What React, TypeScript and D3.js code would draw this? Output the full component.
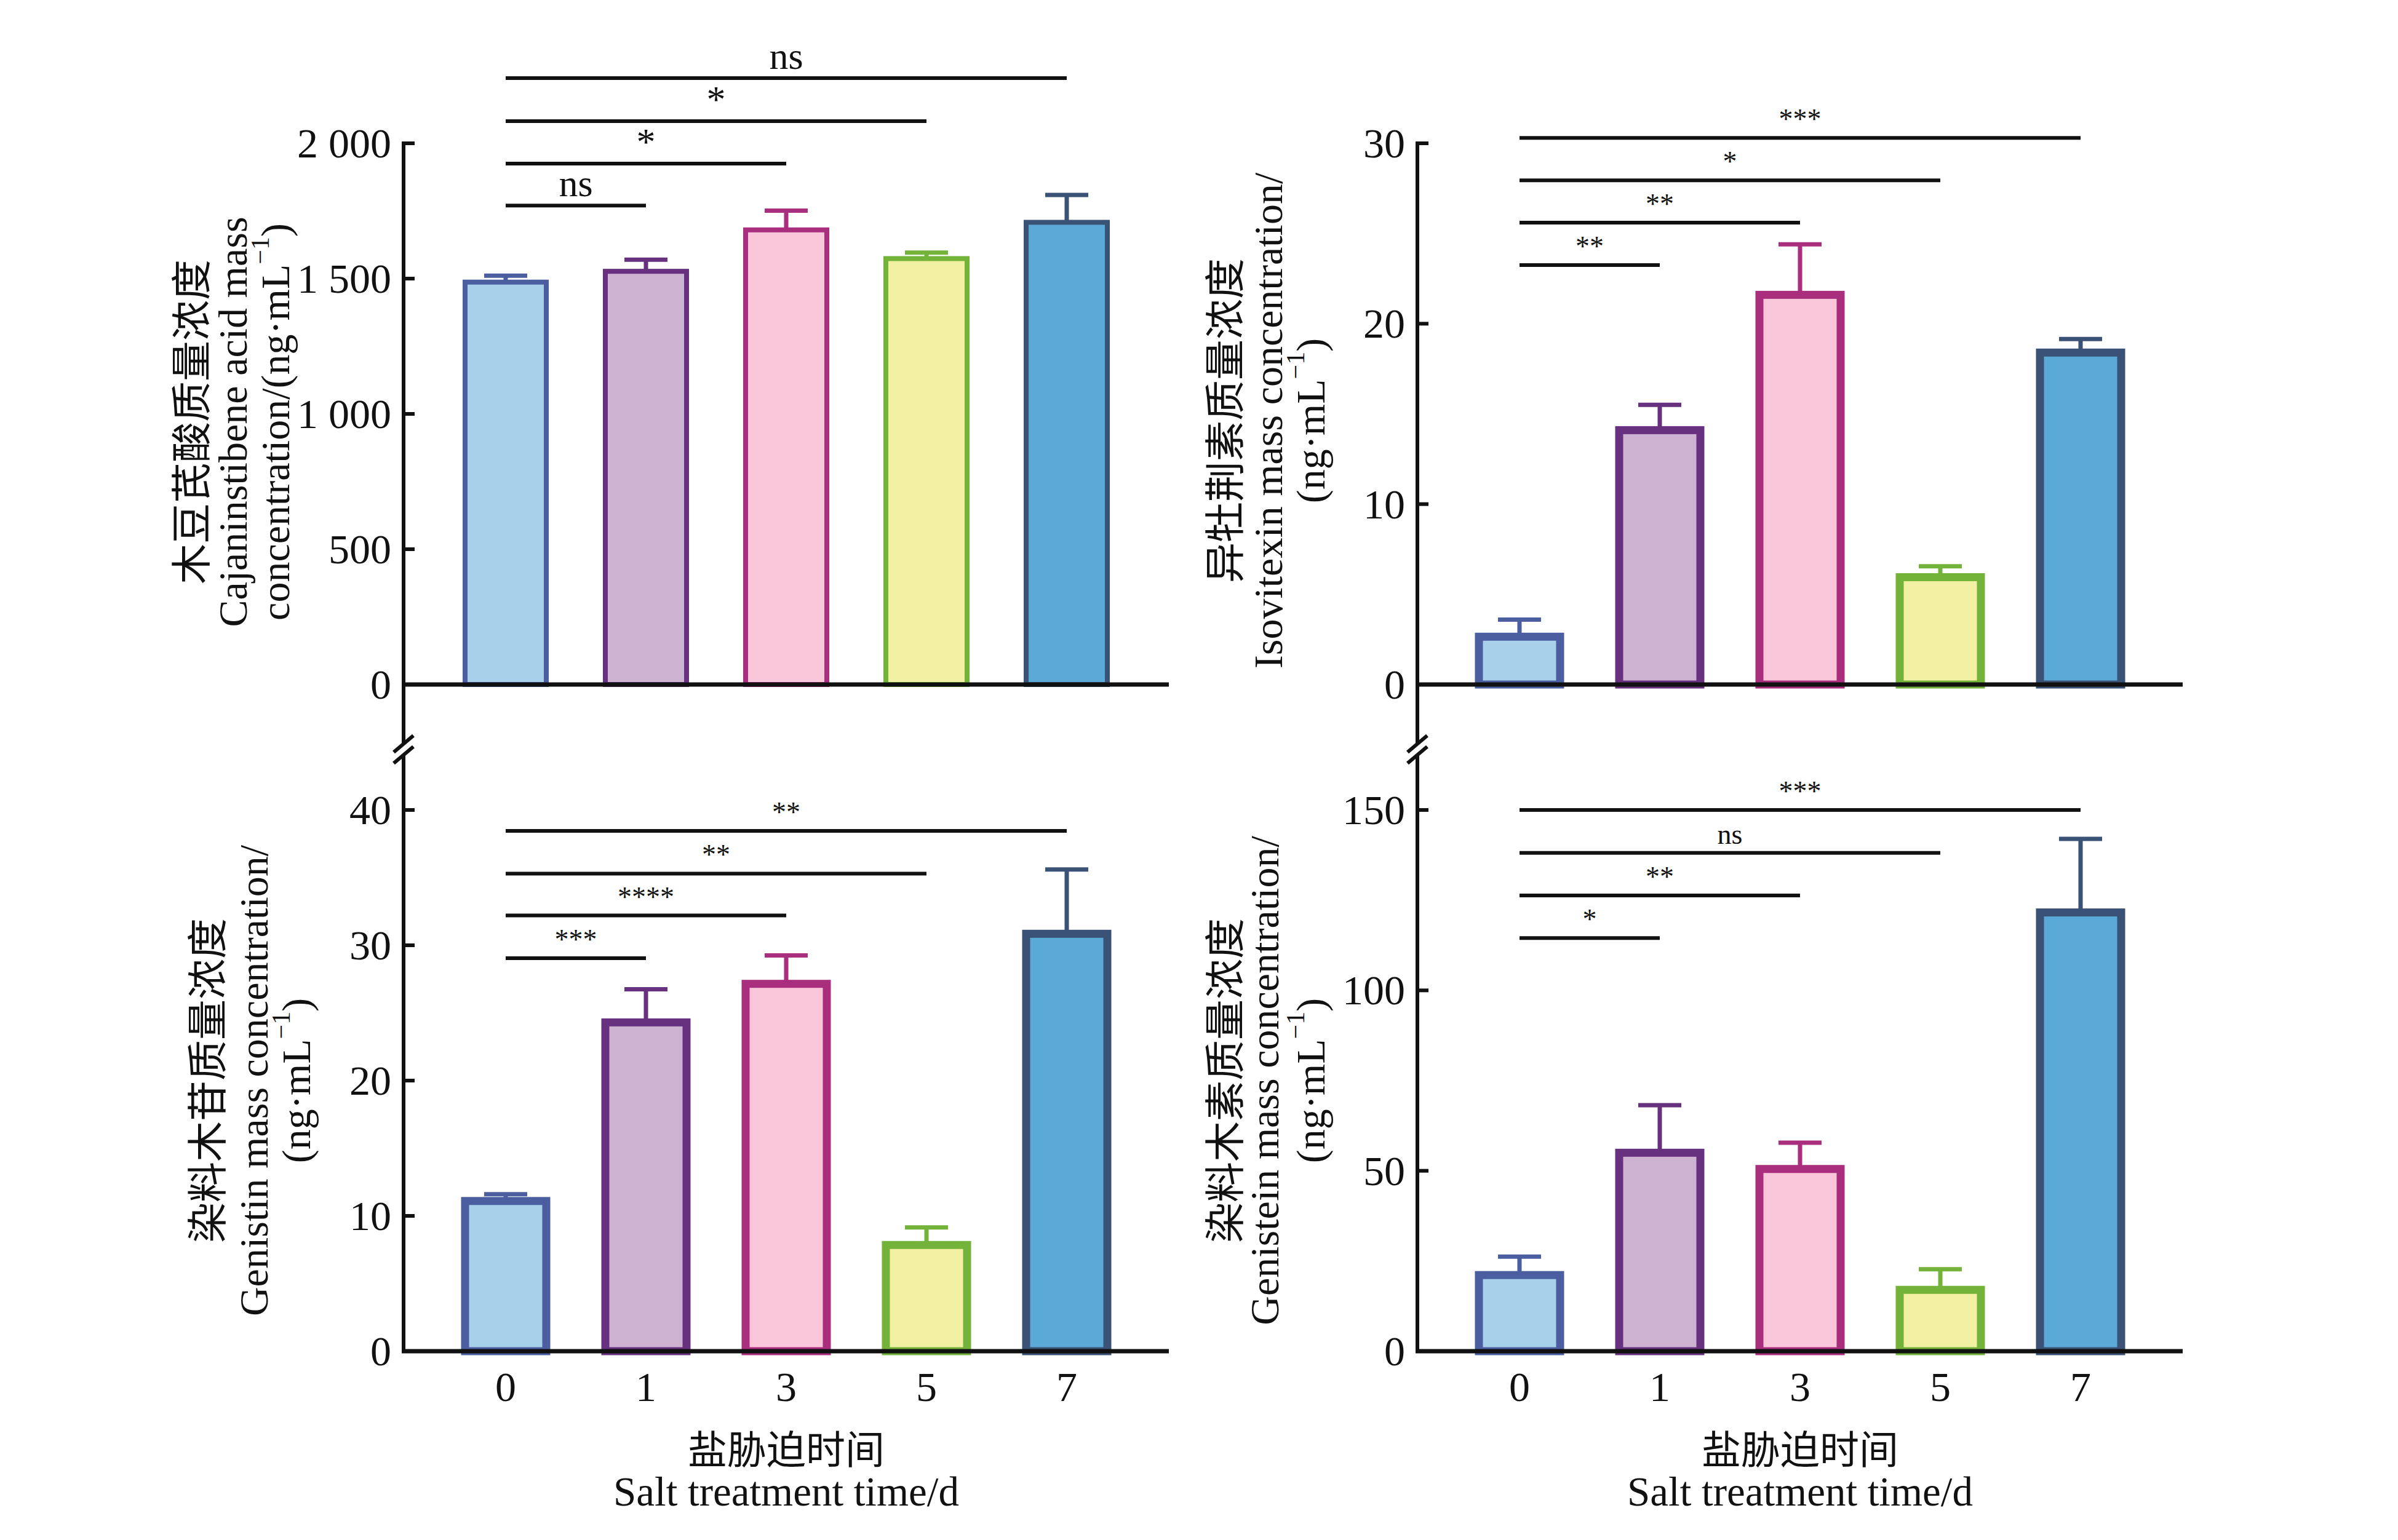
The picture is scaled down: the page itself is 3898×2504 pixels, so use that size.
import React from "react";
import * as d3 from "d3";

// x categories: salt treatment time (d)
const days = ["0", "1", "3", "5", "7"];
const fills = ["#a9d0ea", "#cdb2d2", "#f9c6da", "#f2f0a2", "#5aa9d6"];
const strokes = ["#4a5ea0", "#67317f", "#a92e7d", "#73b33a", "#3a5275"];

// 木豆芪酸 Cajaninstibene acid
const cajaninMean = [1487, 1527, 1680, 1574, 1708];
const cajaninErr = [24, 43, 71, 22, 101];
const cajaninTicks = [0, 500, 1000, 1500, 2000];
const cajaninSig = ["ns", "*", "*", "ns"];
const cajaninSigY = [1770, 1925, 2082, 2241];

// 异牡荆素 Isovitexin
const isovitexinMean = [2.65, 14.1, 21.6, 5.95, 18.4];
const isovitexinErr = [0.95, 1.4, 2.8, 0.6, 0.75];
const isovitexinTicks = [0, 10, 20, 30];
const isovitexinSig = ["**", "**", "*", "***"];
const isovitexinSigY = [23.25, 25.6, 27.95, 30.3];

// 染料木苷 Genistin
const genistinMean = [11.1, 24.3, 27.15, 7.85, 30.85];
const genistinErr = [0.5, 2.45, 2.1, 1.3, 4.75];
const genistinTicks = [0, 10, 20, 30, 40];
const genistinSig = ["***", "****", "**", "**"];
const genistinSigY = [29.05, 32.2, 35.3, 38.45];

// 染料木素 Genistein
const genisteinMean = [21.1, 55.0, 50.5, 17.0, 121.6];
const genisteinErr = [5.1, 13.2, 7.3, 5.7, 20.4];
const genisteinTicks = [0, 50, 100, 150];
const genisteinSig = ["*", "**", "ns", "***"];
const genisteinSigY = [114.5, 126.3, 138.1, 150];

const W = 3898;
const H = 2504;
const FONT = "'Liberation Serif', 'Times New Roman', 'Noto Sans CJK SC', serif";
const AXIS_LEN = 1244;
const BREAK_A = 1209;
const BREAK_B = 1227;

const fmt = (v: number) => d3.format(",")(v).replace(/,/g, " ");

// renders "(ng·mL^-1)" with a superscript
function Unit({ text }: { text: string }) {
  const i = text.indexOf("^-1");
  if (i < 0) return <>{text}</>;
  return (
    <>
      {text.slice(0, i)}
      <tspan dy={-24} fontSize={42}>−1</tspan>
      <tspan dy={24}>{text.slice(i + 3)}</tspan>
    </>
  );
}

interface PanelProps {
  axisX: number;
  topY: number;
  zeroY: number;
  ticks: number[];
  mean: number[];
  err: number[];
  sig: string[];
  sigY: number[];
  barStroke: number;
  sigFont: number;
  title: string[];
  titleDx: number[];
  titleY: number;
  axisFrom: number;
  axisTo: number;
  xLabels: boolean;
}

const Panel: React.FC<PanelProps> = (p) => {
  const x = d3
    .scalePoint<string>()
    .domain(days)
    .range([p.axisX, p.axisX + AXIS_LEN])
    .padding(0.728);
  const y = d3
    .scaleLinear()
    .domain([0, d3.max(p.ticks) as number])
    .range([p.zeroY, p.topY]);
  const barW = 132;
  const capW = 70;

  return (
    <g fontFamily={FONT} fill="#111">
      {/* bars */}
      {days.map((d, i) => {
        const cx = x(d)!;
        const top = y(p.mean[i]);
        const capY = y(p.mean[i] + p.err[i]);
        return (
          <g key={d}>
            <line x1={cx} x2={cx} y1={top} y2={capY} stroke={strokes[i]} strokeWidth={7} />
            <line x1={cx - capW / 2} x2={cx + capW / 2} y1={capY} y2={capY} stroke={strokes[i]} strokeWidth={7} />
            <rect
              x={cx - barW / 2}
              y={top}
              width={barW}
              height={p.zeroY - top}
              fill={fills[i]}
              stroke={strokes[i]}
              strokeWidth={p.barStroke}
            />
          </g>
        );
      })}

      {/* axes */}
      <line x1={p.axisX} x2={p.axisX} y1={p.axisFrom} y2={p.axisTo} stroke="#111" strokeWidth={6} />
      <line x1={p.axisX - 3} x2={p.axisX + AXIS_LEN} y1={p.zeroY} y2={p.zeroY} stroke="#111" strokeWidth={7} />
      {p.ticks.map((t) => (
        <g key={t}>
          <line x1={p.axisX} x2={p.axisX + 18} y1={y(t)} y2={y(t)} stroke="#111" strokeWidth={6} />
          <text x={p.axisX - 20} y={y(t)} textAnchor="end" dominantBaseline="central" fontSize={68}>
            {fmt(t)}
          </text>
        </g>
      ))}
      {p.xLabels &&
        days.map((d) => (
          <text key={d} x={x(d)} y={p.zeroY + 81} textAnchor="middle" fontSize={68}>
            {d}
          </text>
        ))}
      {p.xLabels && (
        <>
          <text x={p.axisX + AXIS_LEN / 2} y={p.zeroY + 183} textAnchor="middle" fontSize={64}>
            盐胁迫时间
          </text>
          <text x={p.axisX + AXIS_LEN / 2} y={p.zeroY + 251} textAnchor="middle" fontSize={67}>
            Salt treatment time/d
          </text>
        </>
      )}

      {/* significance brackets */}
      {p.sig.map((s, k) => {
        const x0 = x(days[0])!;
        const x1 = x(days[k + 1])!;
        const ly = y(p.sigY[k]);
        return (
          <g key={k}>
            <line x1={x0} x2={x1} y1={ly} y2={ly} stroke="#111" strokeWidth={6} />
            <text x={(x0 + x1) / 2} y={ly - 15} textAnchor="middle" fontSize={p.sigFont}>
              {s}
            </text>
          </g>
        );
      })}

      {/* y title */}
      {p.title.map((t, k) => (
        <text
          key={k}
          transform={`translate(${p.axisX + p.titleDx[k]},${p.titleY}) rotate(-90)`}
          textAnchor="middle"
          dominantBaseline="central"
          fontSize={66}
        >
          <Unit text={t} />
        </text>
      ))}
    </g>
  );
};

// the double slash on a broken y axis
const BreakMark: React.FC<{ ax: number }> = ({ ax }) => (
  <g stroke="#111" strokeWidth={6}>
    <line x1={ax - 16} x2={ax + 16} y1={BREAK_A + 14} y2={BREAK_A - 13} />
    <line x1={ax - 16} x2={ax + 16} y1={BREAK_B + 14} y2={BREAK_B - 13} />
  </g>
);

export default function App() {
  const leftX = 656;
  const rightX = 2304;
  const topTop = 233;
  const topZero = 1113;
  const botTop = 1317;
  const botZero = 2197;

  return (
    <svg
      width={W}
      height={H}
      viewBox={`0 0 ${W} ${H}`}
      style={{ position: "absolute", left: 0, top: 0, background: "#fff" }}
    >
      <rect width={W} height={H} fill="#fff" />
      <Panel
        axisX={leftX}
        topY={topTop}
        zeroY={topZero}
        ticks={cajaninTicks}
        mean={cajaninMean}
        err={cajaninErr}
        sig={cajaninSig}
        sigY={cajaninSigY}
        barStroke={8}
        sigFont={62}
        title={["木豆芪酸质量浓度", "Cajaninstibene acid mass", "concentration/(ng·mL^-1)"]}
        titleDx={[-344, -278, -209]}
        titleY={686}
        axisFrom={topTop - 3}
        axisTo={BREAK_A}
        xLabels={false}
      />
      <Panel
        axisX={rightX}
        topY={topTop}
        zeroY={topZero}
        ticks={isovitexinTicks}
        mean={isovitexinMean}
        err={isovitexinErr}
        sig={isovitexinSig}
        sigY={isovitexinSigY}
        barStroke={13}
        sigFont={46}
        title={["异牡荆素质量浓度", "Isovitexin mass concentration/", "(ng·mL^-1)"]}
        titleDx={[-312, -243, -174]}
        titleY={684}
        axisFrom={topTop - 3}
        axisTo={BREAK_A}
        xLabels={false}
      />
      <Panel
        axisX={leftX}
        topY={botTop}
        zeroY={botZero}
        ticks={genistinTicks}
        mean={genistinMean}
        err={genistinErr}
        sig={genistinSig}
        sigY={genistinSigY}
        barStroke={13}
        sigFont={46}
        title={["染料木苷质量浓度", "Genistin mass concentration/", "(ng·mL^-1)"]}
        titleDx={[-318, -244, -175]}
        titleY={1757}
        axisFrom={BREAK_B}
        axisTo={botZero}
        xLabels={true}
      />
      <Panel
        axisX={rightX}
        topY={botTop}
        zeroY={botZero}
        ticks={genisteinTicks}
        mean={genisteinMean}
        err={genisteinErr}
        sig={genisteinSig}
        sigY={genisteinSigY}
        barStroke={13}
        sigFont={46}
        title={["染料木素质量浓度", "Genistein mass concentration/", "(ng·mL^-1)"]}
        titleDx={[-312, -249, -174]}
        titleY={1757}
        axisFrom={BREAK_B}
        axisTo={botZero}
        xLabels={true}
      />
      <BreakMark ax={leftX} />
      <BreakMark ax={rightX} />
    </svg>
  );
}
